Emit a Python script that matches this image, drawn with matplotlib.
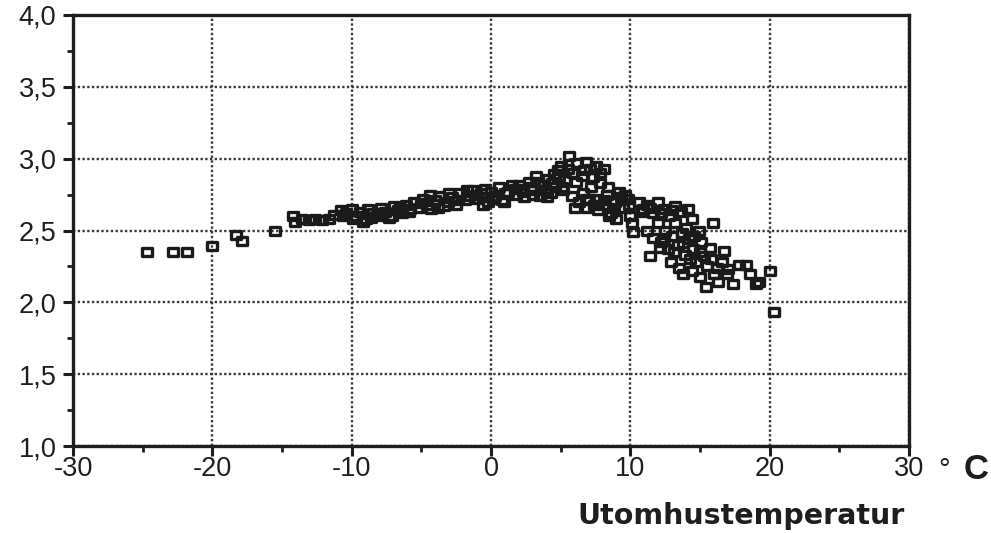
import matplotlib
matplotlib.use('Agg')
import matplotlib.pyplot as plt
from matplotlib.path import Path

plt.rcParams['font.family'] = ['Liberation Sans', 'DejaVu Sans']

# Mätpunkter: utomhustemperatur (°C) och värde
temp = [
    -24.7, -22.8, -21.8, -20.0, -18.3, -17.9, -15.5,
    -14.2, -14.1, -13.6, -13.1, -12.6, -12.1, -11.6, -11.3,
    -10.8, -10.4, -10.0, -9.7, -9.4, -9.0, -8.8, -8.5, -8.2, -7.9,
    -7.6, -7.3, -7.0, -6.7, -6.4, -6.1, -5.8, -5.5, -5.2,
    -10.6, -9.9, -9.2, -8.6, -7.8, -7.1, -6.5, -5.9, -5.0,
    -4.9, -4.6, -4.3, -4.0, -3.7, -3.4, -3.1, -2.8, -2.5, -2.2,
    -1.9, -1.6, -1.3, -1.0, -0.7, -0.4, -0.2, 0.0,
    -4.4, -3.8, -3.0, -2.4, -1.7, -1.1, -0.5, 0.2, -0.6, 0.8,
    0.3, 0.6, 0.9, 1.2, 1.5, 1.8, 2.1, 2.4, 2.7, 3.0, 3.2, 3.5,
    3.8, 4.1, 4.3, 4.6,
    1.0, 1.7, 2.3, 2.9, 3.4, 3.9, 4.4, 2.0, 3.0, 4.0,
    4.8, 5.0, 5.3, 5.6, 5.9, 6.2, 6.5, 6.8, 7.1, 7.5, 7.8, 8.1, 5.2, 5.8,
    4.9, 5.5, 6.1, 6.7, 7.3, 5.1, 4.5,
    6.3, 6.6, 6.9, 7.2, 7.5, 7.8, 8.0, 8.3, 8.6, 8.9, 9.2, 9.5, 9.8,
    10.0, 10.1, 10.2, 6.0, 7.0, 8.4, 9.0, 9.6,
    6.8, 7.4, 8.1, 8.8, 9.3, 9.9, 7.7, 8.5,
    10.6, 10.9, 11.2, 11.6, 12.0, 12.4, 12.8, 13.2, 13.6, 14.1, 14.4,
    10.8, 11.4, 12.2, 13.0,
    11.4, 11.2, 11.6, 12.0, 12.2, 12.5, 12.7, 13.0, 13.2, 13.4, 13.7,
    13.9, 14.2, 14.5, 14.7, 14.9, 15.1, 15.3, 15.5, 15.7, 15.9, 14.0,
    12.9, 13.5, 12.4, 13.1, 13.8, 14.4, 15.0, 14.6, 12.1,
    15.4, 16.3, 16.0, 16.6, 16.9, 17.4, 17.8, 18.6, 19.2, 20.0, 20.3,
    17.0, 19.0, 18.3, 16.7, 15.0, 14.3, 13.8, 15.8, 16.2,
]
value = [
    2.35, 2.35, 2.35, 2.39, 2.47, 2.43, 2.50,
    2.60, 2.56, 2.58, 2.57, 2.58, 2.57, 2.58, 2.61,
    2.64, 2.62, 2.65, 2.60, 2.63, 2.58, 2.65, 2.62, 2.60, 2.66,
    2.63, 2.59, 2.67, 2.64, 2.62, 2.68, 2.65, 2.70, 2.66,
    2.60, 2.58, 2.56, 2.59, 2.61, 2.60, 2.66, 2.63, 2.69,
    2.72, 2.68, 2.65, 2.71, 2.74, 2.67, 2.70, 2.73, 2.68, 2.76,
    2.71, 2.74, 2.78, 2.72, 2.76, 2.79, 2.70, 2.77,
    2.75, 2.66, 2.76, 2.71, 2.78, 2.75, 2.73, 2.72, 2.68, 2.71,
    2.74, 2.80, 2.70, 2.77, 2.82, 2.75, 2.79, 2.73, 2.84, 2.78, 2.88, 2.74,
    2.82, 2.86, 2.76, 2.80,
    2.76, 2.79, 2.77, 2.80, 2.84, 2.78, 2.83, 2.82, 2.75, 2.73,
    2.92, 2.95, 2.85, 3.02, 2.90, 2.97, 2.88, 2.98, 2.93, 2.95, 2.90, 2.93, 2.78, 2.74,
    2.88, 2.93, 2.84, 2.92, 2.87, 2.80, 2.89,
    2.70, 2.76, 2.66, 2.80, 2.72, 2.83, 2.68, 2.75, 2.62, 2.70, 2.77, 2.66, 2.72,
    2.60, 2.55, 2.49, 2.66, 2.72, 2.80, 2.58, 2.75,
    2.72, 2.68, 2.71, 2.66, 2.73, 2.68, 2.64, 2.60,
    2.70, 2.65, 2.68, 2.62, 2.70, 2.65, 2.60, 2.67, 2.63, 2.65, 2.58,
    2.63, 2.66, 2.62, 2.64,
    2.32, 2.50, 2.45, 2.55, 2.42, 2.50, 2.37, 2.46, 2.55, 2.40, 2.48,
    2.33, 2.44, 2.37, 2.28, 2.50, 2.42, 2.32, 2.25, 2.38, 2.55, 2.52,
    2.28, 2.24, 2.45, 2.35, 2.41, 2.22, 2.35, 2.46, 2.38,
    2.11, 2.14, 2.20, 2.28, 2.20, 2.13, 2.26, 2.20, 2.14, 2.22, 1.93,
    2.23, 2.13, 2.26, 2.36, 2.18, 2.30, 2.20, 2.30, 2.24,
]

xticks = [-30, -20, -10, 0, 10, 20, 30]
xlabels = ['-30', '-20', '-10', '0', '10', '20', '30']
yticks = [1.0, 1.5, 2.0, 2.5, 3.0, 3.5, 4.0]
ylabels = ['1,0', '1,5', '2,0', '2,5', '3,0', '3,5', '4,0']

# rektangulär markör, lite bredare än hög
rect = Path([(-1.25, -1), (1.25, -1), (1.25, 1), (-1.25, 1), (-1.25, -1)],
            [Path.MOVETO, Path.LINETO, Path.LINETO, Path.LINETO, Path.CLOSEPOLY])

fig = plt.figure(figsize=(9.91, 5.33), dpi=100)
ax = fig.add_axes([0.0737, 0.163, 0.8436, 0.809])

ax.plot(temp, value, linestyle='none', marker=rect, markersize=7.8,
        markerfacecolor='none', markeredgecolor='#1a1a1a', markeredgewidth=2.4,
        zorder=3)

ax.set_xlim(-30, 30)
ax.set_ylim(1.0, 4.0)
ax.set_xticks(xticks)
ax.set_xticklabels(xlabels)
ax.set_xticks([-25, -15, -5, 5, 15, 25], minor=True)
ax.set_yticks(yticks)
ax.set_yticklabels(ylabels)
ax.set_yticks([1.25, 1.75, 2.25, 2.75, 3.25, 3.75], minor=True)

ax.grid(True, which='major', linestyle=(0, (1, 1)), linewidth=1.7, color='#3a3a3a')
ax.set_axisbelow(True)

for s in ax.spines.values():
    s.set_linewidth(2.4)
    s.set_color('#1e1e1e')

ax.tick_params(which='major', direction='out', length=7, width=2.2,
               labelsize=19.5, color='#1e1e1e', labelcolor='#1e1e1e')
ax.tick_params(axis='x', which='major', pad=0)
ax.tick_params(axis='y', which='major', pad=5)
ax.tick_params(which='minor', direction='out', length=4, width=2.0, color='#1e1e1e')

# enhet efter sista x-etiketten
fig.text(938 / 991, 1 - 456 / 533, '°', ha='left', va='top',
         fontsize=21, color='#1e1e1e')
fig.text(989 / 991, 1 - 453 / 533, 'C', ha='right', va='top',
         fontsize=25, fontweight='bold', color='#1e1e1e')
fig.text(905 / 991, 1 - 502 / 533, 'Utomhustemperatur', ha='right', va='top',
         fontsize=20.5, fontweight='bold', color='#1e1e1e',
         family='DejaVu Sans')

fig.savefig('out.png', dpi=100)
